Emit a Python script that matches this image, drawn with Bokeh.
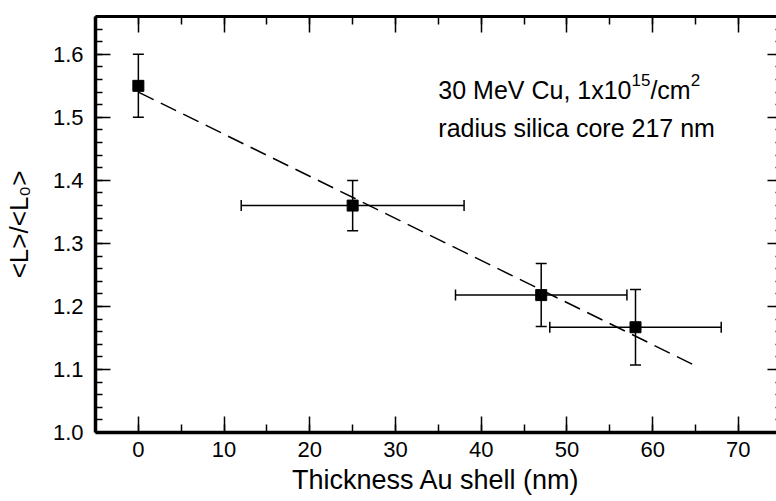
import numpy as np
from bokeh.plotting import figure
from bokeh.models import (ColumnDataSource, Whisker, TeeHead, LinearAxis, FixedTicker,
                          Range1d, Label, CustomJSTickFormatter)
from bokeh.embed import file_html
from bokeh.resources import INLINE

# ---- data ----
thickness_nm = [0, 25, 47, 58]
thickness_err_nm = [0, 13, 10, 10]
ratio = [1.55, 1.36, 1.218, 1.167]
ratio_err = [0.05, 0.04, 0.05, 0.06]
fit_thickness_nm = [0, 65]
fit_ratio = [1.54, 1.106]

x_ticks = [0, 10, 20, 30, 40, 50, 60, 70]
x_tick_labels = ["0", "10", "20", "30", "40", "50", "60", "70"]
y_ticks = [1.0, 1.1, 1.2, 1.3, 1.4, 1.5, 1.6]
y_tick_labels = ["1.0", "1.1", "1.2", "1.3", "1.4", "1.5", "1.6"]

FONT = "Liberation Sans"

x_minor = list(np.arange(-5, 80, 5.0))
y_minor = list(np.round(np.arange(1.0, 1.67, 0.02), 2))

p = figure(width=776, height=501, output_backend="svg", toolbar_location=None,
           x_range=Range1d(-5, 74.45), y_range=Range1d(1.0, 1.66),
           min_border_left=95, min_border_right=0, min_border_top=16, min_border_bottom=69,
           x_axis_label="Thickness Au shell (nm)", y_axis_label="<L>/<L\u2080>")
p.outline_line_color = None
p.xgrid.visible = False
p.ygrid.visible = False
p.background_fill_color = "white"
p.border_fill_color = "white"

xt = FixedTicker(ticks=x_ticks, minor_ticks=x_minor)
yt = FixedTicker(ticks=y_ticks, minor_ticks=y_minor)


def style_axis(ax, ticker, labels=None, major_in=15, minor_in=8, line_w=3.5, show_line=True):
    ax.ticker = ticker
    ax.major_tick_in = major_in
    ax.major_tick_out = 0
    ax.minor_tick_in = minor_in
    ax.minor_tick_out = 0
    ax.major_tick_line_width = 1.5
    ax.minor_tick_line_width = 1.5
    ax.major_tick_line_color = "black"
    ax.minor_tick_line_color = "black"
    if show_line:
        ax.axis_line_width = line_w
        ax.axis_line_color = "black"
    else:
        ax.axis_line_color = None
    if labels is None:
        ax.formatter = CustomJSTickFormatter(code="return ''")
        ax.major_label_standoff = 0
    else:
        ax.major_label_overrides = labels
        ax.major_label_text_font = FONT
        ax.major_label_text_font_size = "22px"
        ax.major_label_text_color = "black"
    ax.axis_label_text_font = FONT
    ax.axis_label_text_font_style = "normal"
    ax.axis_label_text_color = "black"


style_axis(p.xaxis[0], xt, {t: l for t, l in zip(x_ticks, x_tick_labels)}, major_in=16)
p.xaxis[0].major_label_standoff = 9
p.xaxis[0].axis_label_text_font_size = "27px"
p.xaxis[0].axis_label_standoff = 5

style_axis(p.yaxis[0], yt, {t: l for t, l in zip(y_ticks, y_tick_labels)}, major_in=15, minor_in=7)
p.yaxis[0].major_label_standoff = 12
p.yaxis[0].axis_label_text_font_size = "26px"
p.yaxis[0].axis_label_standoff = 16

top = LinearAxis()
style_axis(top, xt, None, major_in=16, minor_in=8, line_w=3)
p.add_layout(top, "above")

right = LinearAxis()
style_axis(right, yt, None, major_in=9, minor_in=1, show_line=False)
p.add_layout(right, "right")

# ---- fit line ----
p.line(fit_thickness_nm, fit_ratio, line_color="black", line_width=1.5, line_dash="17 8")

# ---- error bars ----
ysrc = ColumnDataSource(dict(x=thickness_nm,
                             lower=[r - e for r, e in zip(ratio, ratio_err)],
                             upper=[r + e for r, e in zip(ratio, ratio_err)]))
p.add_layout(Whisker(base="x", lower="lower", upper="upper", source=ysrc, dimension="height",
                     line_width=1.5, line_color="black",
                     lower_head=TeeHead(size=11, line_width=1.5, line_color="black"),
                     upper_head=TeeHead(size=11, line_width=1.5, line_color="black")))

idx = [i for i, e in enumerate(thickness_err_nm) if e > 0]
xsrc = ColumnDataSource(dict(y=[ratio[i] for i in idx],
                             lower=[thickness_nm[i] - thickness_err_nm[i] for i in idx],
                             upper=[thickness_nm[i] + thickness_err_nm[i] for i in idx]))
p.add_layout(Whisker(base="y", lower="lower", upper="upper", source=xsrc, dimension="width",
                     line_width=1.5, line_color="black",
                     lower_head=TeeHead(size=11, line_width=1.5, line_color="black"),
                     upper_head=TeeHead(size=11, line_width=1.5, line_color="black")))

# ---- points ----
p.scatter(thickness_nm, ratio, marker="square", size=11, fill_color="black", line_color="black")

# ---- annotation (superscripts as separate raised, smaller pieces) ----
FS = 25          # main annotation font size, px
SS = 17          # superscript font size, px
ax_x, l1_y, l2_y = 35.0, 1.544, 1.4825


def em_width(s):
    w = {'0': .556, '1': .556, '2': .556, '3': .556, '5': .556, 'x': .5, ' ': .278, ',': .278,
         'M': .833, 'e': .556, 'V': .667, 'C': .722, 'u': .556, '/': .278, 'c': .5, 'm': .833}
    return sum(w[c] for c in s)


pieces = [("30 MeV Cu, 1x10", FS, 0), ("15", SS, 10), ("/cm", FS, 0), ("2", SS, 10)]
off = 0.0
for txt, fs, rise in pieces:
    p.add_layout(Label(x=ax_x, y=l1_y, x_offset=off, y_offset=rise, text=txt,
                       text_font=FONT, text_font_size=f"{fs}px", text_color="black",
                       text_align="left", text_baseline="alphabetic"))
    off += em_width(txt) * fs

p.add_layout(Label(x=ax_x, y=l2_y, text="radius silica core 217 nm",
                   text_font=FONT, text_font_size=f"{FS}px", text_color="black",
                   text_align="left", text_baseline="alphabetic"))

open("out.html", "w").write(file_html(p, INLINE))
